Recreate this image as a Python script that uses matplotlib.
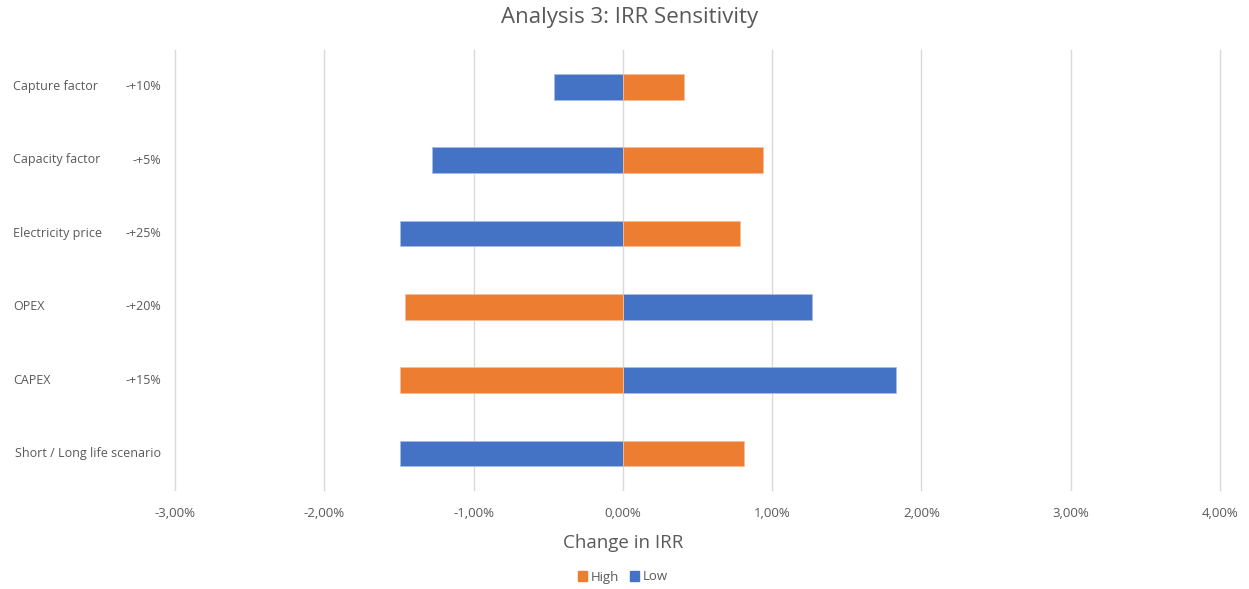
import matplotlib
matplotlib.use("Agg")
import matplotlib.pyplot as plt
from matplotlib.patches import Patch
from matplotlib.ticker import FuncFormatter
from matplotlib.transforms import blended_transform_factory

plt.rcParams["font.family"] = ["Open Sans", "DejaVu Sans"]

# IRR sensitivity per driver, change in percentage points
categories = ["Capture factor", "Capacity factor", "Electricity price",
              "OPEX", "CAPEX", "Short / Long life scenario"]
ranges = ["-+10%", "-+5%", "-+25%", "-+20%", "-+15%", ""]
low = [-0.46, -1.28, -1.49, 1.27, 1.83, -1.49]
high = [0.41, 0.94, 0.785, -1.46, -1.49, 0.81]

BLUE = "#4472C4"
ORANGE = "#ED7D31"
TEXT = "#595959"
GRID = "#D9D9D9"

W, H = 1249, 589
fig = plt.figure(figsize=(W / 100, H / 100), dpi=100)
ax = fig.add_axes([175 / W, 1 - 490 / H, (1220 - 175) / W, (490 - 50) / H])

y = list(range(len(categories)))
bar_h = 0.35
ax.barh(y, low, height=bar_h, color=BLUE, edgecolor="#A9BCE6", linewidth=0.6, zorder=3)
ax.barh(y, high, height=bar_h, color=ORANGE, edgecolor="#F6BE98", linewidth=0.6, zorder=3)

ax.set_xlim(-3, 4)
ax.set_ylim(len(categories) - 0.5, -0.5)
ax.set_xticks(range(-3, 5))
ax.xaxis.set_major_formatter(FuncFormatter(lambda v, _: f"{v:.2f}%".replace(".", ",")))
ax.tick_params(axis="x", length=0, pad=12, labelsize=9.5, labelcolor=TEXT)
ax.set_yticks([])
ax.grid(axis="x", color=GRID, linewidth=1, zorder=0)
for line in ax.get_xgridlines():
    line.set_clip_on(False)
for s in ax.spines.values():
    s.set_visible(False)

# two-column category labels left of the plot
trans = blended_transform_factory(fig.transFigure, ax.transData)
for i, (name, rng) in enumerate(zip(categories, ranges)):
    if rng:
        ax.text(13 / W, i, name, transform=trans, ha="left", va="center",
                fontsize=9, color=TEXT)
        ax.text(161 / W, i, rng, transform=trans, ha="right", va="center",
                fontsize=9, color=TEXT)
    else:
        ax.text(161 / W, i, name, transform=trans, ha="right", va="center",
                fontsize=9, color=TEXT)

fig.text(630 / W, 1 - 18 / H, "Analysis 3: IRR Sensitivity",
         ha="center", va="center", fontsize=16, color=TEXT)
fig.text(623 / W, 1 - 543 / H, "Change in IRR", ha="center", va="center",
         fontsize=13.5, color=TEXT)

handles = [Patch(color=ORANGE, label="High"), Patch(color=BLUE, label="Low")]
fig.legend(handles=handles, loc="center", bbox_to_anchor=(623 / W, 1 - 577 / H),
           ncol=2, frameon=False, fontsize=9.5, labelcolor=TEXT,
           handlelength=0.7, handleheight=0.7, handletextpad=0.3, columnspacing=0.8)

fig.savefig("out.png", dpi=100, facecolor="white")
